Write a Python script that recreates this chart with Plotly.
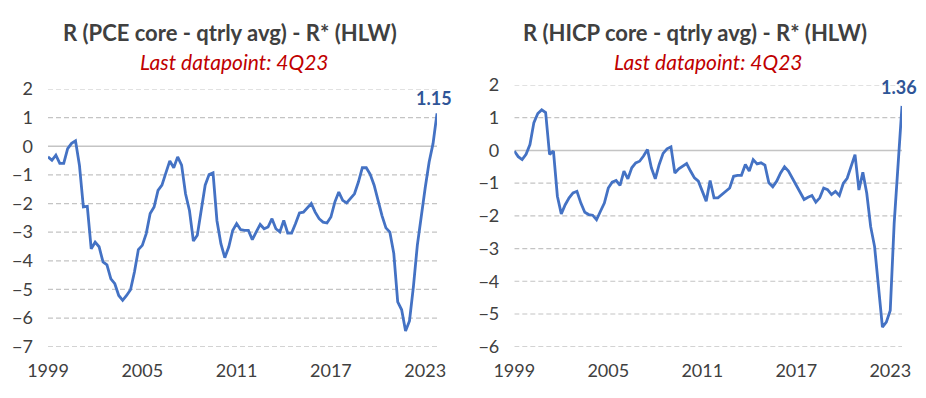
import plotly.graph_objects as go

# ---- data -------------------------------------------------------------
years = list(range(1999, 2024))
quarters = [y + q / 4 for y in years for q in range(4)]  # 1999Q1 .. 2023Q4

pce_gap = [
    -0.37, -0.49, -0.31, -0.60, -0.60, -0.08, 0.10, 0.19, -0.66, -2.12,
    -2.10, -3.58, -3.35, -3.51, -4.04, -4.14, -4.63, -4.80, -5.21, -5.38,
    -5.21, -5.01, -4.39, -3.61, -3.46, -3.05, -2.35, -2.12, -1.54, -1.36,
    -0.93, -0.51, -0.75, -0.37, -0.66, -1.66, -2.24, -3.31, -3.11, -2.24,
    -1.36, -0.99, -0.93, -2.60, -3.40, -3.89, -3.52, -2.94, -2.70, -2.91,
    -2.94, -2.94, -3.26, -2.99, -2.73, -2.88, -2.82, -2.53, -2.88, -2.99,
    -2.59, -3.03, -3.03, -2.70, -2.33, -2.30, -2.14, -2.00, -2.30, -2.53,
    -2.65, -2.68, -2.47, -1.95, -1.60, -1.89, -1.98, -1.83, -1.66, -1.25,
    -0.75, -0.75, -0.98, -1.36, -1.90, -2.42, -2.85, -3.00, -3.74, -5.43,
    -5.71, -6.45, -6.10, -4.90, -3.45, -2.35, -1.45, -0.55, 0.10, 1.15,
]

hicp_gap = [
    -0.02, -0.19, -0.28, -0.12, 0.18, 0.85, 1.13, 1.24, 1.16, -0.12,
    -0.02, -1.40, -1.94, -1.66, -1.45, -1.30, -1.25, -1.61, -1.89, -1.96,
    -1.98, -2.12, -1.86, -1.61, -1.15, -0.97, -0.92, -1.07, -0.63, -0.87,
    -0.53, -0.38, -0.33, -0.17, 0.03, -0.53, -0.87, -0.43, -0.09, 0.05,
    0.11, -0.69, -0.56, -0.48, -0.40, -0.63, -0.84, -0.94, -1.25, -1.55,
    -0.92, -1.45, -1.45, -1.35, -1.25, -1.15, -0.79, -0.76, -0.76, -0.43,
    -0.63, -0.28, -0.41, -0.38, -0.45, -0.99, -1.11, -0.94, -0.69, -0.50,
    -0.63, -0.84, -1.09, -1.28, -1.50, -1.43, -1.38, -1.58, -1.45, -1.15,
    -1.20, -1.35, -1.25, -1.38, -1.01, -0.85, -0.49, -0.13, -1.21, -0.67,
    -1.31, -2.33, -2.94, -4.17, -5.40, -5.25, -4.89, -2.23, -0.29, 1.36,
]

tick_years = [1999, 2005, 2011, 2017, 2023]
left_yticks = [2, 1, 0, -1, -2, -3, -4, -5, -6, -7]
right_yticks = [2, 1, 0, -1, -2, -3, -4, -5, -6]

left_title = "R (PCE core - qtrly avg) - R* (HLW)"
right_title = "R (HICP core - qtrly avg) - R* (HLW)"
subtitle = "Last datapoint: 4Q23"

# ---- style ------------------------------------------------------------
W, H = 926, 398
OFF = 8   # page body margin offset
M = 4     # figure margin
FONT = "Lato"
LINE = "#4472C4"
LABEL = "#2F5597"
TEXT = "#404040"
GRID = "#C4C4C4"


def px(v):
    return (v - OFF - M) / (W - 2 * M)


def py(v):
    return 1 - (v - OFF - M) / (H - 2 * M)


fig = go.Figure()

# horizontal gridlines from the tick lists, in data coordinates of each subplot
for xr, yr, ticks in [("x", "y", left_yticks), ("x2", "y2", right_yticks)]:
    for v in ticks:
        fig.add_shape(type="line", xref=xr, yref=yr,
                      x0=quarters[0], x1=quarters[-1], y0=v, y1=v,
                      layer="below",
                      line=dict(color=GRID, width=1.4 if v == 0 else 1.2,
                                dash="solid" if v == 0 else "5px,3px"))

fig.add_trace(go.Scatter(x=quarters, y=pce_gap, mode="lines",
                         line=dict(color=LINE, width=2.8), xaxis="x", yaxis="y",
                         cliponaxis=False, hoverinfo="skip"))
fig.add_trace(go.Scatter(x=quarters, y=hicp_gap, mode="lines",
                         line=dict(color=LINE, width=2.8), xaxis="x2", yaxis="y2",
                         cliponaxis=False, hoverinfo="skip"))


def xaxis(domain, anchor):
    return dict(domain=domain, anchor=anchor, range=[quarters[0], quarters[-1]],
                tickvals=tick_years, ticktext=[str(y) for y in tick_years],
                showgrid=False, zeroline=False, showline=False, ticks="",
                tickfont=dict(family=FONT, size=18, color=TEXT),
                ticklabelstandoff=11, fixedrange=True)


def yaxis(domain, anchor, ticks, rng):
    return dict(domain=domain, anchor=anchor, range=rng, tickvals=ticks,
                showgrid=False, zeroline=False, showline=False, ticks="",
                tickfont=dict(family=FONT, size=18, color=TEXT),
                ticklabelstandoff=14, fixedrange=True)


fig.update_layout(
    width=W, height=H,
    margin=dict(l=M, r=M, t=M, b=M, autoexpand=False),
    paper_bgcolor="white", plot_bgcolor="rgba(0,0,0,0)",
    showlegend=False,
    xaxis=xaxis([px(48), px(437)], "y"),
    yaxis=yaxis([py(346.7), py(89)], "x", left_yticks, [-7, 2]),
    xaxis2=xaxis([px(514.3), px(902)], "y2"),
    yaxis2=yaxis([py(346.7), py(85)], "x2", right_yticks, [-6, 2]),
)

ann = []
for cx, title in [(230, left_title), (695, right_title)]:
    ann.append(dict(text=f"<b>{title}</b>", xref="paper", yref="paper",
                    x=px(cx), y=py(32), xanchor="center", yanchor="middle",
                    showarrow=False, font=dict(family=FONT, size=22, color=TEXT)))
for cx in [234, 708]:
    ann.append(dict(text=f"<i>{subtitle}</i>", xref="paper", yref="paper",
                    x=px(cx), y=py(62), xanchor="center", yanchor="middle",
                    showarrow=False, font=dict(family=FONT, size=21, color="#C00000")))
ann.append(dict(text=f"<b>{pce_gap[-1]:.2f}</b>", xref="x", yref="y",
                x=quarters[-1], y=pce_gap[-1], xanchor="center", yanchor="bottom",
                xshift=-3, yshift=2, showarrow=False,
                font=dict(family=FONT, size=18, color=LABEL)))
ann.append(dict(text=f"<b>{hicp_gap[-1]:.2f}</b>", xref="x2", yref="y2",
                x=quarters[-1], y=hicp_gap[-1], xanchor="center", yanchor="bottom",
                xshift=-3, yshift=6, showarrow=False,
                font=dict(family=FONT, size=18, color=LABEL)))
fig.update_layout(annotations=ann)

fig.write_html("out.html")
